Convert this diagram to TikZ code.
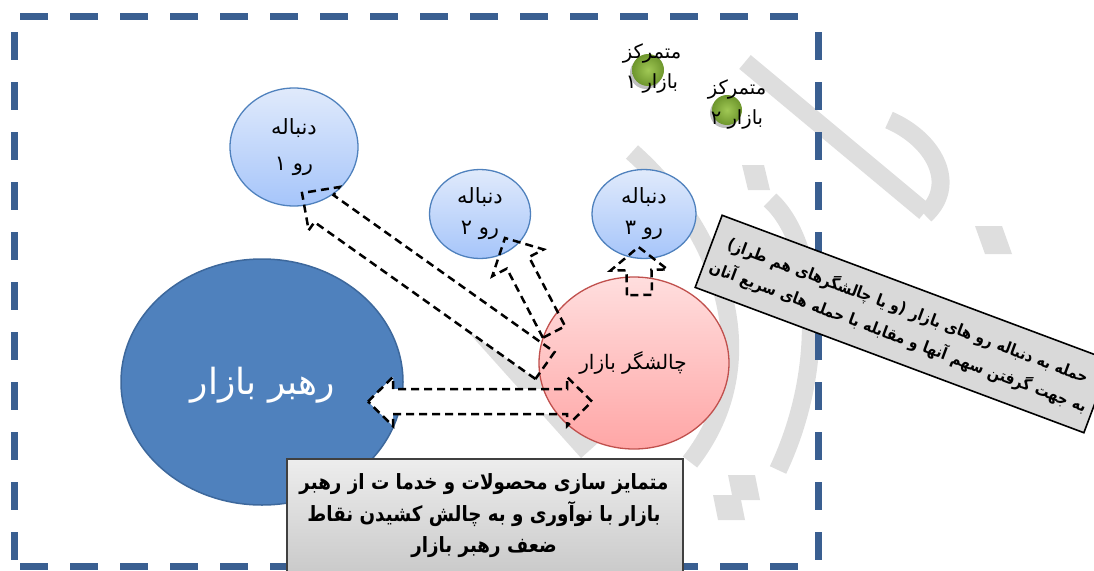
\documentclass[tikz,border=0pt]{standalone}
\usepackage{fontspec}
\usetikzlibrary{calc,shapes.geometric}
\TeXXeTstate=1
\newfontfamily\fa[Script=Arabic]{DejaVu Sans}
\newfontfamily\fanarrow[Script=Arabic,FakeStretch=0.87]{DejaVu Sans}
\definecolor{framec}{RGB}{58,95,145}
\definecolor{leaderfill}{RGB}{79,129,189}
\definecolor{leaderline}{RGB}{61,104,156}
\definecolor{bubtop}{RGB}{224,234,251}
\definecolor{bubbot}{RGB}{166,197,250}
\definecolor{bubline}{RGB}{79,129,189}
\definecolor{pinktop}{RGB}{255,222,222}
\definecolor{pinkbot}{RGB}{255,166,166}
\definecolor{pinkline}{RGB}{192,80,77}
\definecolor{wmark}{RGB}{222,222,222}
\definecolor{greenin}{RGB}{160,200,85}
\definecolor{greenout}{RGB}{110,150,45}

% block arrow: #2 name, #3 tail, #4 tip, #5 half shaft, #6 half head, #7 head length
\newcommand\blockarrow[7][]{%
  \coordinate (#2b) at ($(#4)!#7!(#3)$);
  \path[#1] ($(#3)!#5!90:(#4)$) -- ($(#2b)!#5!90:(#4)$) -- ($(#2b)!#6!90:(#4)$)
    -- (#4) -- ($(#2b)!#6!-90:(#4)$) -- ($(#2b)!#5!-90:(#4)$) -- ($(#3)!#5!-90:(#4)$) -- cycle;
}

\begin{document}
\begin{tikzpicture}[x=1pt,y=-1pt,
  framedash/.style={draw=framec,line width=7pt,dash pattern=on 28pt off 22pt},
  wm/.style={draw=wmark,line width=18pt},
  arrfill/.style={fill=white},
  arrline/.style={draw=black,line width=2.5pt,dash pattern=on 8pt off 5pt,line join=miter},
  bubble/.style={ellipse,draw=bubline,line width=1.3pt,top color=bubtop,bottom color=bubbot,align=center},
  greendot/.style={circle,inner sep=0pt,minimum size=32pt,inner color=greenin,outer color=greenout},
  dotshadow/.style={circle,inner sep=0pt,minimum size=32pt,fill=black,opacity=0.25},
  lbl/.style={align=center,font={\fa\fontsize{19.5}{30}\selectfont}},
  notebox/.style={draw=black!75,line width=1.6pt,align=center}]
\useasboundingbox (0,0) rectangle (1094,570);
\clip (0,0) rectangle (1094,570);

% watermark strokes
\draw[wm] (745,62) -- (925,212);
\draw[wm] (889,120) .. controls (935,140) and (958,185) .. (925,215);
\fill[wmark] (975,226) -- (1002,226) -- (1012,254) -- (985,254) -- cycle;
\fill[wmark] (742,165) -- (764,165) -- (770,190) -- (748,190) -- cycle;
\draw[wm] (770,200) .. controls (815,240) and (830,360) .. (778,470);
\draw[wm] (632,152) .. controls (720,230) and (770,360) .. (690,462);
\draw[wm,line width=24pt] (478,325) -- (590,450);
\fill[wmark] (713,495) -- (740,495) -- (745,520) -- (718,520) -- cycle;
\fill[wmark] (728,475) -- (755,475) -- (760,500) -- (733,500) -- cycle;

% frame
\draw[framedash] (20,16.5) -- (812,16.5);
\draw[framedash] (20,566) -- (812,566);
\draw[framedash] (14,32) -- (14,566);
\draw[framedash] (818,32) -- (818,566);

% market leader
\node[ellipse,draw=leaderline,line width=1.5pt,fill=leaderfill,minimum width=282pt,minimum height=246pt] (leader) at (262,382) {};
\node[text=white,font={\fa\fontsize{36}{40}\selectfont}] (leadertext) at (263,385) {\beginR رهبر بازار\endR};

% arrow anchors
\coordinate (t1) at (545,365.5); \coordinate (p1) at (302,193);
\coordinate (t2) at (554,332);   \coordinate (p2) at (505,238);
\coordinate (t3) at (639.5,295); \coordinate (p3) at (638.5,247);
\coordinate (l4) at (368,401.5); \coordinate (r4) at (592,401.5);

% arrow fills
\blockarrow[arrfill]{aa}{t1}{p1}{16.5pt}{26.5pt}{27pt}
\blockarrow[arrfill]{ab}{t2}{p2}{12.5pt}{29pt}{28pt}
\blockarrow[arrfill]{ac}{t3}{p3}{12.5pt}{28.5pt}{23pt}
\path[arrfill] (l4) -- ++(25,-24.5) -- ++(0,12) -- ($(r4)+(-25,-12.5)$) -- ++(0,-12) -- (r4)
  -- ++(-25,24.5) -- ++(0,-12) -- ($(l4)+(25,12.5)$) -- ++(0,12) -- cycle;

% followers and challenger
\node[bubble,minimum width=128pt,minimum height=118pt,font={\fa\fontsize{21}{36}\selectfont}] (f1) at (294,147)
  {\beginR دنباله\endR\\\beginR رو ۱\endR};
\node[bubble,minimum width=101pt,minimum height=89pt,font={\fa\fontsize{21}{31}\selectfont}] (f2) at (480,214)
  {\beginR دنباله\endR\\\beginR رو ۲\endR};
\node[bubble,minimum width=104pt,minimum height=89pt,font={\fa\fontsize{21}{31}\selectfont}] (f3) at (644,214)
  {\beginR دنباله\endR\\\beginR رو ۳\endR};
\node[ellipse,draw=pinkline,line width=1.3pt,top color=pinktop,bottom color=pinkbot,
  minimum width=190pt,minimum height=172pt] (ch) at (634,363) {};
\node[font={\fa\fontsize{20}{22}\selectfont}] (chtext) at (633,363) {\beginR چالشگر بازار\endR};

% arrow outlines
\blockarrow[arrline]{aa}{t1}{p1}{16.5pt}{26.5pt}{27pt}
\blockarrow[arrline]{ab}{t2}{p2}{12.5pt}{29pt}{28pt}
\blockarrow[arrline]{ac}{t3}{p3}{12.5pt}{28.5pt}{23pt}
\path[arrline] (l4) -- ++(25,-24.5) -- ++(0,12) -- ($(r4)+(-25,-12.5)$) -- ++(0,-12) -- (r4)
  -- ++(-25,24.5) -- ++(0,-12) -- ($(l4)+(25,12.5)$) -- ++(0,12) -- cycle;

% market nichers
\node[dotshadow] (n1s) at (646,73) {};
\node[dotshadow,minimum size=30pt] (n2s) at (725,113) {};
\node[greendot] (n1) at (648,70) {};
\node[greendot,minimum size=30pt] (n2) at (727,110) {};
\node[lbl] (n1t) at (652,68) {\beginR متمرکز\endR\\\beginR بازار ۱\endR};
\node[lbl] (n2t) at (737,104) {\beginR متمرکز\endR\\\beginR بازار ۲\endR};

% notes
\node[notebox,top color=white!93!black,bottom color=white!77!black,minimum width=396pt,minimum height=132pt,
  anchor=north west,inner sep=0pt] (note1) at (286,458) {};
\node[align=center,font={\fanarrow\bfseries\fontsize{21}{31.5}\selectfont}] (note1t) at (484,516)
  {\beginR متمایز سازی محصولات و خدما ت از رهبر\endR\\\beginR بازار با نوآوری و به چالش کشیدن نقاط\endR\\\beginR ضعف رهبر بازار\endR};
\node[notebox,draw=black,fill=white!85!black,rotate=-20.5,minimum width=415pt,minimum height=77pt,
  inner sep=0pt,text width=413pt,align=center,font={\fanarrow\bfseries\fontsize{16.2}{28}\selectfont}] (note2) at (903,324)
  {\beginR حمله به دنباله رو های بازار (و یا چالشگرهای هم طراز)\endR\\\beginR به جهت گرفتن سهم آنها و مقابله با حمله های سریع آنان\endR};
\end{tikzpicture}
\end{document}
